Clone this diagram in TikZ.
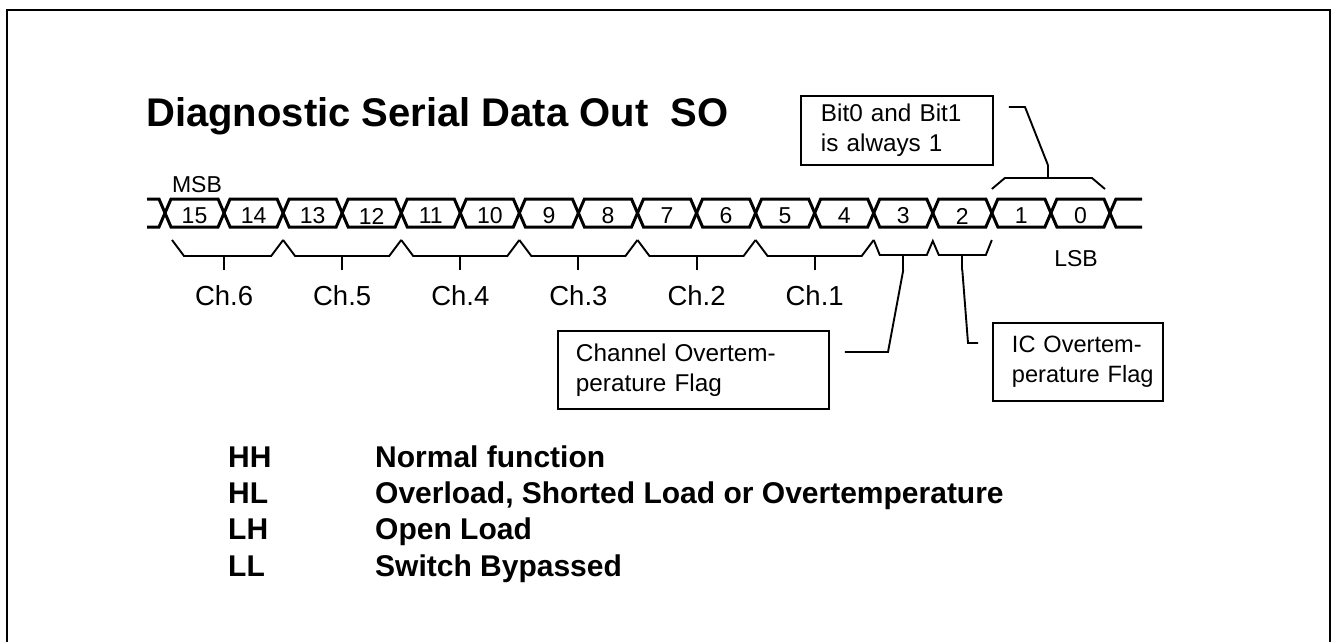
\documentclass[tikz,border=0pt]{standalone}
\usepackage{fontspec}
\setmainfont{Liberation Sans}
\usetikzlibrary{calc}
\begin{document}
\begin{tikzpicture}[x=1pt,y=-1pt,
  bus/.style={line width=3pt, line join=miter},
  brace/.style={line width=1.9pt},
  lead/.style={line width=1.9pt},
  frame/.style={line width=1.4pt},
  box/.style={draw, line width=1.9pt, align=left, anchor=north west,
    font=\fontsize{24.3}{30}\selectfont},
  digit/.style={font=\fontsize{23}{26}\selectfont, inner sep=0pt},
  chlab/.style={font=\fontsize{27.5}{30}\selectfont, inner sep=0pt, anchor=north},
  leg/.style={font=\bfseries\fontsize{30}{36}\selectfont, anchor=base west, inner sep=0pt}]
\useasboundingbox (0,0) rectangle (1332,642);
% frame
\draw[frame] (7,642) -- (7,10) -- (1330,10) -- (1330,642);
% title
\node[anchor=base west, inner sep=0pt, font=\bfseries\fontsize{40}{44}\selectfont] (title) at (146,126)
  {Diagnostic Serial Data Out\ \ SO};
% crossing points
\foreach \i in {0,...,16} \coordinate (X\i) at ({165+59.06*\i},213);
% cells
\foreach \i in {0,...,15} {
  \pgfmathtruncatemacro{\j}{\i+1}
  \pgfmathtruncatemacro{\b}{15-\i}
  \draw[bus] (X\i) -- ++(6,-14) -- ($(X\j)+(-6,-14)$) -- (X\j) -- ++(-6,14) -- ($(X\i)+(6,14)$) -- cycle;
  \node[digit] (b\b) at ($(X\i)!0.5!(X\j)+(0,3)$) {\b};
}
% bus ends
\draw[bus] (147,199) -- ($(X0)+(-6,-14)$) -- (X0) -- ($(X0)+(-6,14)$) -- (147,227);
\draw[bus] (1142,199) -- ($(X16)+(6,-14)$) -- (X16) -- ($(X16)+(6,14)$) -- (1142,227);
% MSB / LSB
\node[digit, anchor=base] (msb) at (197,192) {MSB};
\node[digit, anchor=base] (lsb) at (1076,266) {LSB};
% channel braces
\foreach \a/\m/\c/\lab/\s in {0/1/2/6/7, 2/3/4/5/0, 4/5/6/4/0, 6/7/8/3/0, 8/9/10/2/0, 10/11/12/1/0} {
  \draw[brace] ($(X\a)+(\s,27)$) -- ++(12,16) -- ($(X\c)+(-12,43)$) -- ($(X\c)+(0,27)$);
  \draw[brace] ($(X\m)+(0,43)$) -- ++(0,14);
  \node[chlab] (ch\lab) at ($(X\m)+(0,72)$) {Ch.\lab};
}
% bit 3 and bit 2 braces
\draw[brace] ($(X12)+(0,27)$) -- ++(6,15) -- ($(X13)+(-6,42)$) -- ($(X13)+(0,28)$)
  -- ++(6,14) -- ($(X14)+(-6,42)$) -- ($(X14)+(0,27)$);
\draw[brace] ($(X12)!0.5!(X13)+(0,42)$) -- ++(0,15) coordinate (t3);
\draw[brace] ($(X13)!0.5!(X14)+(0,42)$) -- ++(0,15) coordinate (t2);
% bit 1/0 brace
\draw[brace] ($(X14)+(0,-24)$) -- ++(13,-11) -- ($(X16)+(-18,-35)$) -- ($(X16)+(-5,-24)$);
\draw[brace] ($(X14)!0.5!(X16)+(-3,-35)$) -- ++(0,-13) coordinate (t10);
% boxes
\node[box, inner xsep=20pt, inner ysep=0pt, text width=152pt, minimum height=69pt] (bitbox) at (800,95)
  {Bit0 and Bit1\\is always 1};
\node[box, inner xsep=18pt, inner ysep=0pt, text width=235pt, minimum height=78pt] (chbox) at (557,330)
  {Channel Overtem-\\perature Flag};
\node[box, inner xsep=19pt, inner ysep=0pt, text width=132pt, minimum height=78pt,
  font=\fontsize{23.6}{30}\selectfont] (icbox) at (992,322)
  {\mbox{IC Overtem-}\\\mbox{perature Flag}};
% leaders
\coordinate (c3) at (888,352);
\coordinate (c2) at (968,343);
\coordinate (c10) at (1025,107);
\draw[lead] (t3) -- (c3) -- ([xshift=15pt]c3 -| chbox.east);
\draw[lead] (t2) -- (c2) -- ([xshift=-14pt]c2 -| icbox.west);
\draw[lead] (t10) -- (c10) -- ([xshift=15pt]c10 -| bitbox.east);
% legend
\node[leg] (kHH) at (228,467) {HH};
\node[leg] (dHH) at (375,467) {Normal function};
\node[leg] (kHL) at (228,503) {HL};
\node[leg] (dHL) at (375,503) {Overload, Shorted Load or Overtemperature};
\node[leg] (kLH) at (228,539) {LH};
\node[leg] (dLH) at (375,539) {Open Load};
\node[leg] (kLL) at (228,576) {LL};
\node[leg] (dLL) at (375,576) {Switch Bypassed};
\end{tikzpicture}
\end{document}
